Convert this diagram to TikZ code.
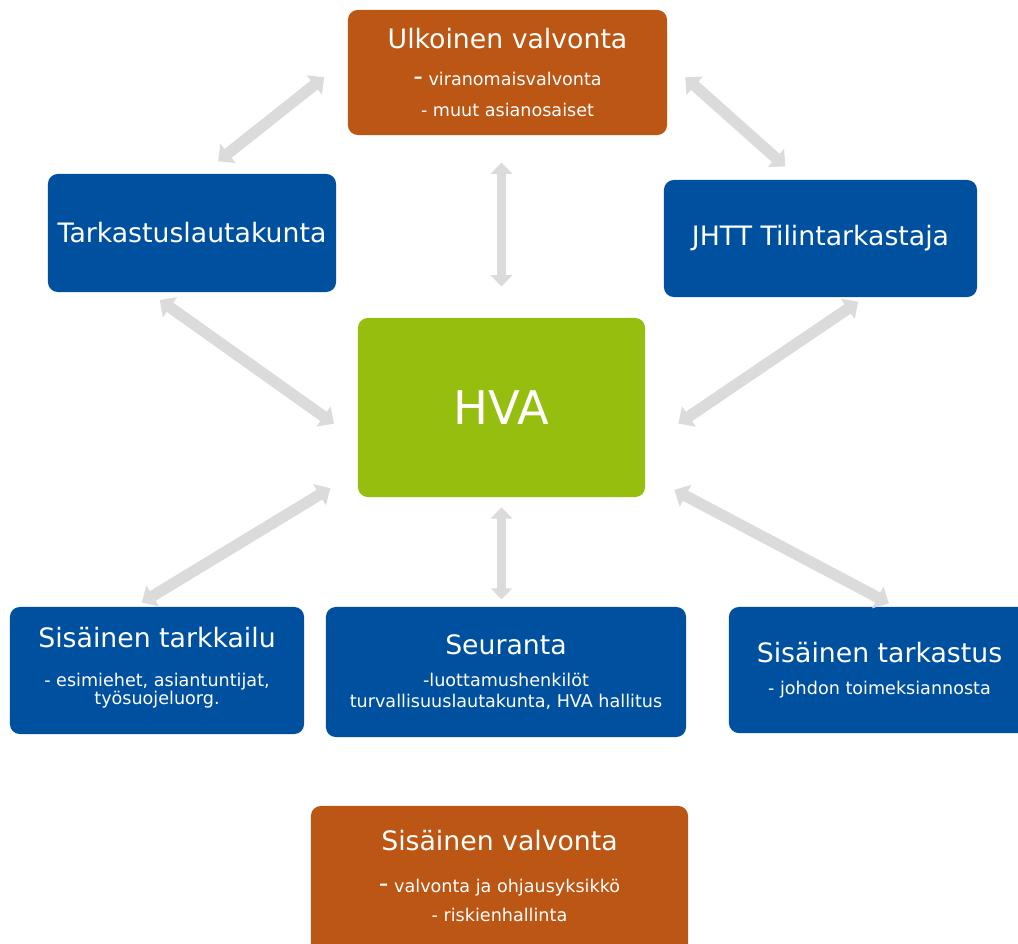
\documentclass[tikz,border=0pt]{standalone}
\usepackage{fontspec}
\setmainfont{DejaVu Sans}
\usetikzlibrary{arrows.meta}
\definecolor{valvontaorange}{RGB}{187,86,20}
\definecolor{boxblue}{RGB}{0,80,160}
\definecolor{hvagreen}{RGB}{150,190,14}
\definecolor{arrowgray}{RGB}{219,219,219}
\newcommand{\otsikko}{\fontsize{19}{22}\selectfont}
\newcommand{\alateksti}{\fontsize{12.5}{14}\selectfont}

\begin{document}
\begin{tikzpicture}[x=0.025cm,y=-0.025cm,
main/.style={rounded corners=7pt,text=white,align=center,inner sep=0pt,font=\alateksti},
twoway/.style={draw=arrowgray,line width=8pt,{Triangle[width=17pt,length=9pt]}-{Triangle[width=17pt,length=9pt]}},
thinway/.style={draw=arrowgray,line width=7pt,{Triangle[width=15pt,length=8pt]}-{Triangle[width=15pt,length=8pt]}}]
\clip (0,0) rectangle (1018,944);
\fill[white] (0,0) rectangle (1018,944);

\node[main,fill=valvontaorange,minimum width=7.975cm,minimum height=3.125cm] (ulk) at (507.5,72.5) {{\otsikko Ulkoinen valvonta}\\[12pt] {\otsikko -}~viranomaisvalvonta\\[8pt] - muut asianosaiset};
\node[main,fill=boxblue,minimum width=7.2cm,minimum height=2.95cm] (tark) at (192,233) {\otsikko Tarkastuslautakunta};
\node[main,fill=boxblue,minimum width=7.825cm,minimum height=2.925cm] (jhtt) at (820.5,238.5) {\otsikko JHTT Tilintarkastaja};
\node[main,fill=hvagreen,minimum width=7.175cm,minimum height=4.475cm] (hva) at (501.5,407.5) {\fontsize{33}{40}\selectfont HVA};
\node[main,fill=boxblue,minimum width=7.35cm,minimum height=3.175cm] (starkk) at (157,670.5) {{\otsikko Sisäinen tarkkailu}\\[14pt] - esimiehet, asiantuntijat,\\[-1.5pt] työsuojeluorg.\\[-7pt]};
\node[main,fill=boxblue,minimum width=9cm,minimum height=3.25cm] (seur) at (506,672) {{\otsikko Seuranta}\\[9pt] -luottamushenkilöt\\[1pt] turvallisuuslautakunta, HVA hallitus};
\node[main,fill=boxblue,minimum width=7.525cm,minimum height=3.15cm] (startas) at (879.5,670) {{\otsikko Sisäinen tarkastus}\\[9pt] - johdon toimeksiannosta};
\node[main,fill=valvontaorange,minimum width=9.425cm,minimum height=3.85cm] (sval) at (499.5,883) {{\otsikko Sisäinen valvonta}\\[16pt] {\otsikko -}~valvonta ja ohjausyksikkö\\[7pt] - riskienhallinta\\[-4pt]};

\draw[twoway,shorten <=0.75cm,shorten >=0.5cm] (ulk.175) -- (tark.80);
\draw[twoway,shorten <=0.6cm,shorten >=0.5cm] (ulk.4.5) -- (jhtt.109);
\draw[thinway,shorten <=0.68cm,shorten >=0.78cm] (hva.north |- ulk.south) -- (hva.north);
\draw[twoway,shorten <=0.33cm,shorten >=0.73cm] (tark.234) -- (hva.193);
\draw[twoway,shorten <=0.2cm,shorten >=1cm] (jhtt.307) -- (hva.345);
\draw[twoway,shorten <=0.8cm,shorten >=0.2cm] (hva.204) -- (starkk.109);
\draw[thinway,shorten <=0.25cm,shorten >=0.18cm] (hva.south) -- (hva.south |- seur.north);
\draw[twoway,shorten <=0.82cm,shorten >=0.18cm] (hva.335) -- (startas.76);

\end{tikzpicture}
\end{document}
